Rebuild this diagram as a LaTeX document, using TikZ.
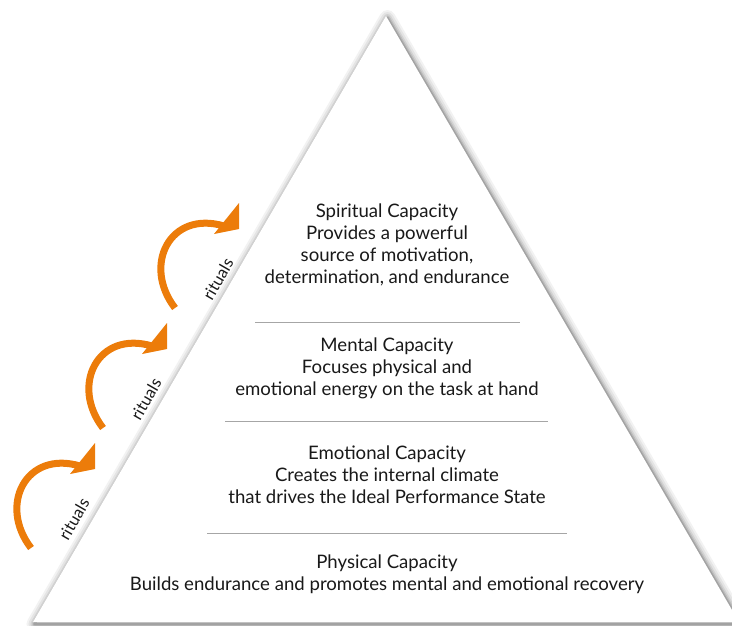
\documentclass[tikz,border=0pt]{standalone}
\usepackage{fontspec}
\setmainfont{Lato}
\usetikzlibrary{arrows.meta}

\definecolor{ritualorange}{RGB}{236,124,10}
\definecolor{textgray}{RGB}{25,25,25}

\tikzset{
  capline/.style={draw=black!35, line width=1pt},
  captext/.style={align=center, text=textgray, inner sep=1pt, font=\fontsize{18.6}{22}\selectfont},
  ritualshaft/.style={draw=ritualorange, line width=7pt},
  ritualhead/.style={fill=ritualorange},
  ritualtext/.style={rotate=60, text=textgray, inner sep=0pt, font=\fontsize{16.5}{18}\selectfont}
}

\begin{document}
\begin{tikzpicture}[x=1pt,y=-1pt]
  \useasboundingbox (0,0) rectangle (732,625);
  \clip (0,0) rectangle (732,625);

  % pyramid
  \coordinate (apex) at (386,16);
  \coordinate (baseL) at (33,622);
  \coordinate (baseR) at (739,622);
  \foreach \w/\o in {16/0.05, 12/0.06, 8/0.08, 5/0.10, 2.5/0.14}
    \draw [line width=\w pt, black, opacity=\o, line join=round]
      ([shift={(1.5,2)}]apex) -- ([shift={(1.5,2)}]baseL) -- ([shift={(1.5,2)}]baseR) -- cycle;
  \fill [white] (apex) -- (baseL) -- (baseR) -- cycle;

  % separators
  \coordinate (s1a) at (255,322); \coordinate (s1b) at (520,322);
  \coordinate (s2a) at (225,421); \coordinate (s2b) at (548,421);
  \coordinate (s3a) at (207,533); \coordinate (s3b) at (567,533);
  \draw [capline] (s1a) -- (s1b);
  \draw [capline] (s2a) -- (s2b);
  \draw [capline] (s3a) -- (s3b);

  % capacities
  \node [captext] (spiritual) at (387,245) {Spiritual Capacity\\Provides a powerful\\source of motivation,\\determination, and endurance};
  \node [captext] (mental) at (387,368) {Mental Capacity\\Focuses physical and\\emotional energy on the task at hand};
  \node [captext] (emotional) at (387,475) {Emotional Capacity\\Creates the internal climate\\that drives the Ideal Performance State};
  \node [captext] (physical) at (387,574) {Physical Capacity\\Builds endurance and promotes mental and emotional recovery};

  % rituals
  \foreach \k in {0,1,2}{
    \begin{scope}[shift={(72*\k,-120*\k)}]
      \coordinate (r\k s) at (31,548);
      \coordinate (r\k e) at (80,466);
      \draw [ritualshaft] (r\k s) .. controls (-2,505) and (26,450) .. (r\k e);
      \fill [ritualhead] (95,443) -- (95,469) -- (70,474) -- cycle;
      \node [ritualtext] (rt\k) at (74,519) {rituals};
    \end{scope}
  }
\end{tikzpicture}
\end{document}
